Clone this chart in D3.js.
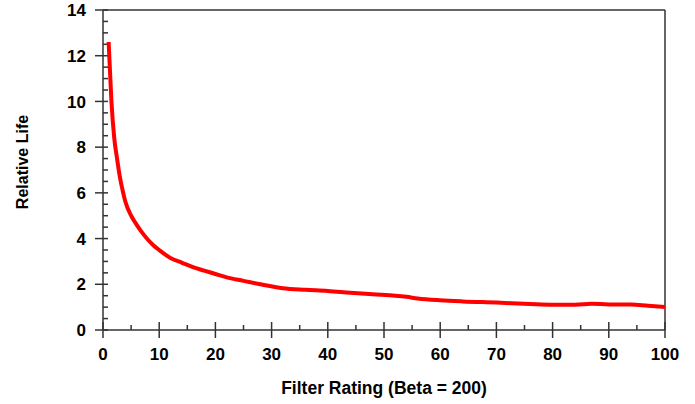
<!DOCTYPE html>
<html>
<head>
<meta charset="utf-8">
<script src="https://cdn.jsdelivr.net/npm/d3@7"></script>
<style>
  body { margin: 0; background: #fff; }
  text { font-family: "Liberation Sans", Arial, sans-serif; font-weight: bold; fill: #000; }
</style>
</head>
<body>
<svg id="chart"></svg>
<script>
// filter rating (beta = 200) vs relative life
var rating = [1, 1.5, 2, 2.5, 3, 3.5, 4, 5, 6, 7, 8, 9, 10, 12, 14, 16, 18, 20, 22, 25, 28, 32, 36, 40, 44, 48, 52, 54, 56, 60, 64, 70, 76, 80, 84, 87, 90, 94, 97, 100];
var life = [12.6, 10.0, 8.4, 7.5, 6.7, 6.1, 5.6, 5.0, 4.6, 4.25, 3.95, 3.7, 3.5, 3.15, 2.95, 2.75, 2.6, 2.45, 2.3, 2.15, 2.0, 1.83, 1.76, 1.71, 1.63, 1.56, 1.5, 1.45, 1.38, 1.3, 1.25, 1.2, 1.14, 1.11, 1.11, 1.15, 1.12, 1.12, 1.06, 1.01];
var xTicks = [0, 10, 20, 30, 40, 50, 60, 70, 80, 90, 100];
var yTicks = [0, 2, 4, 6, 8, 10, 12, 14];

var width = 695, height = 404;
var margin = {left: 103, right: 30, top: 10, bottom: 74};

var svg = d3.select("#chart")
	.attr("width", width)
	.attr("height", height);

var x = d3.scaleLinear().domain([0, 100]).range([margin.left, width - margin.right]);
var y = d3.scaleLinear().domain([0, 14]).range([height - margin.bottom, margin.top]);

var axisColor = "#333";

// frame (top + right)
svg.append("line")
	.attr("x1", x(0)).attr("x2", x(100))
	.attr("y1", y(14)).attr("y2", y(14))
	.style("stroke", axisColor).style("stroke-width", "1.5px");
svg.append("line")
	.attr("x1", x(100)).attr("x2", x(100))
	.attr("y1", y(14)).attr("y2", y(0))
	.style("stroke", axisColor).style("stroke-width", "1.5px");

// x axis: major ticks cross the line, minor ticks point inward
var xAxis = svg.append("g").attr("transform", "translate(0," + y(0) + ")");
xAxis.append("line")
	.attr("x1", x(0)).attr("x2", x(100))
	.style("stroke", axisColor).style("stroke-width", "1.5px");
xAxis.selectAll(".major")
	.data(xTicks)
	.enter().append("line")
	.attr("x1", function(d){ return x(d); })
	.attr("x2", function(d){ return x(d); })
	.attr("y1", -8).attr("y2", 8)
	.style("stroke", axisColor).style("stroke-width", "1.5px");
xAxis.selectAll(".minor")
	.data(d3.range(5, 100, 10))
	.enter().append("line")
	.attr("x1", function(d){ return x(d); })
	.attr("x2", function(d){ return x(d); })
	.attr("y1", -5).attr("y2", 0)
	.style("stroke", axisColor).style("stroke-width", "1.5px");
xAxis.selectAll("text")
	.data(xTicks)
	.enter().append("text")
	.attr("x", function(d){ return x(d); })
	.attr("y", 30)
	.attr("text-anchor", "middle")
	.style("font-size", "17px")
	.text(function(d){ return d; });

// y axis
var yAxis = svg.append("g").attr("transform", "translate(" + x(0) + ",0)");
yAxis.append("line")
	.attr("y1", y(0)).attr("y2", y(14))
	.style("stroke", axisColor).style("stroke-width", "1.5px");
yAxis.selectAll(".major")
	.data(yTicks)
	.enter().append("line")
	.attr("y1", function(d){ return y(d); })
	.attr("y2", function(d){ return y(d); })
	.attr("x1", -8).attr("x2", 5)
	.style("stroke", axisColor).style("stroke-width", "1.5px");
yAxis.selectAll(".minor")
	.data(d3.range(0, 14, 0.5).filter(function(d){ return d % 2 != 0; }))
	.enter().append("line")
	.attr("y1", function(d){ return y(d); })
	.attr("y2", function(d){ return y(d); })
	.attr("x1", 0).attr("x2", 5)
	.style("stroke", axisColor).style("stroke-width", "1.5px");
yAxis.selectAll("text")
	.data(yTicks)
	.enter().append("text")
	.attr("x", -17)
	.attr("y", function(d){ return y(d); })
	.attr("dy", "0.36em")
	.attr("text-anchor", "end")
	.style("font-size", "17px")
	.text(function(d){ return d; });

// axis titles
svg.append("text")
	.attr("x", (x(0) + x(100)) / 2)
	.attr("y", 394)
	.attr("text-anchor", "middle")
	.style("font-size", "17.5px")
	.text("Filter Rating (Beta = 200)");
svg.append("text")
	.attr("transform", "translate(28," + 162 + ") rotate(-90)")
	.attr("text-anchor", "middle")
	.style("font-size", "16px")
	.text("Relative Life");

// the curve
var line = d3.line()
	.x(function(d){ return x(d[0]); })
	.y(function(d){ return y(d[1]); })
	.curve(d3.curveMonotoneX);

svg.append("path")
	.datum(d3.zip(rating, life))
	.attr("d", line)
	.style("fill", "none")
	.style("stroke", "#ff0000")
	.style("stroke-width", "4px")
	.style("stroke-linejoin", "round");
</script>
</body>
</html>
